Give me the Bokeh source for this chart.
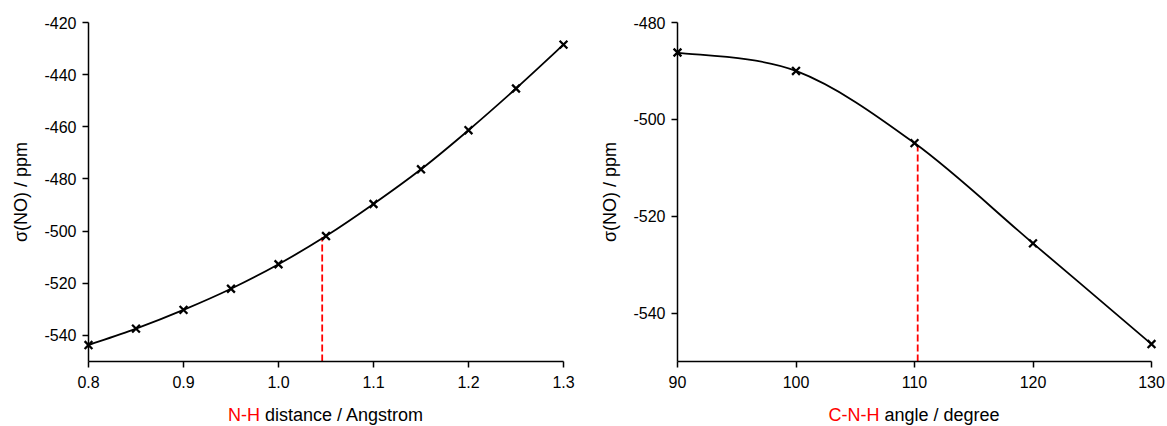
import numpy as np
from bokeh.plotting import figure
from bokeh.layouts import row, column
from bokeh.models import FixedTicker, PrintfTickFormatter, ColumnDataSource, Range1d, Div
from bokeh.embed import file_html
from bokeh.resources import INLINE

# ---- data ----
nh_distance = [0.80, 0.85, 0.90, 0.95, 1.00, 1.05, 1.10, 1.15, 1.20, 1.25, 1.30]
sigma_nh = [-543.7, -537.4, -530.2, -522.1, -512.7, -501.9, -489.6, -476.3, -461.3, -445.3, -428.5]
nh_marker_x = 1.046
nh_marker_top = -502.4

cnh_angle = [90, 100, 110, 120, 130]
sigma_cnh = [-486.2, -490.0, -504.9, -525.6, -546.4]
cnh_marker_x = 110.27
cnh_marker_top = -505.4

left_xticks = [0.8, 0.9, 1.0, 1.1, 1.2, 1.3]
left_yticks = [-540, -520, -500, -480, -460, -440, -420]
right_xticks = [90, 100, 110, 120, 130]
right_yticks = [-540, -520, -500, -480]

FONT = "Liberation Sans"


def smooth_segments(xs, ys):
    P = np.column_stack([xs, ys]).astype(float)
    n = len(P)
    out = {k: [] for k in ("x0", "y0", "x1", "y1", "cx0", "cy0", "cx1", "cy1")}
    for i in range(n - 1):
        pm = P[i - 1] if i > 0 else P[i]
        pp = P[i + 2] if i + 2 < n else P[i + 1]
        c1 = P[i] + (P[i + 1] - pm) / 6.0
        c2 = P[i + 1] - (pp - P[i]) / 6.0
        out["x0"].append(P[i][0]); out["y0"].append(P[i][1])
        out["x1"].append(P[i + 1][0]); out["y1"].append(P[i + 1][1])
        out["cx0"].append(c1[0]); out["cy0"].append(c1[1])
        out["cx1"].append(c2[0]); out["cy1"].append(c2[1])
    return out


def make_panel(xs, ys, xr, yr, xticks, yticks, xfmt, mx, mtop, width, bl, br):
    p = figure(width=width, height=400, output_backend="svg", toolbar_location=None,
               x_range=Range1d(*xr), y_range=Range1d(*yr),
               min_border_left=bl, min_border_right=br, min_border_top=22, min_border_bottom=39)
    p.outline_line_color = None
    p.grid.visible = False
    p.background_fill_color = "white"
    p.border_fill_color = "white"

    for ax in (p.xaxis[0], p.yaxis[0]):
        ax.axis_line_color = "black"
        ax.axis_line_width = 1.5
        ax.major_tick_line_color = "black"
        ax.major_tick_line_width = 1.5
        ax.major_tick_out = 6
        ax.major_tick_in = 0
        ax.minor_tick_line_color = None
        ax.major_label_text_font = FONT
        ax.major_label_text_font_size = "16px"
        ax.major_label_text_color = "black"
        ax.major_label_standoff = 6

    p.xaxis[0].ticker = FixedTicker(ticks=xticks)
    p.xaxis[0].formatter = PrintfTickFormatter(format=xfmt)
    p.xaxis[0].major_label_standoff = 8
    p.yaxis[0].ticker = FixedTicker(ticks=yticks)
    p.yaxis[0].formatter = PrintfTickFormatter(format="%d")
    p.yaxis[0].axis_label = "σ(NO) / ppm"
    p.yaxis[0].axis_label_text_font = FONT
    p.yaxis[0].axis_label_text_font_size = "18px"
    p.yaxis[0].axis_label_text_font_style = "normal"
    p.yaxis[0].axis_label_text_color = "black"
    p.yaxis[0].axis_label_standoff = 10

    # red dashed marker line
    p.segment(x0=[mx], y0=[yr[0]], x1=[mx], y1=[mtop], line_color="red",
              line_width=1.8, line_dash="7 3")

    seg = smooth_segments(xs, ys)
    p.bezier(source=ColumnDataSource(seg), x0="x0", y0="y0", x1="x1", y1="y1",
             cx0="cx0", cy0="cy0", cx1="cx1", cy1="cy1", line_color="black", line_width=1.8,
             level="overlay")
    p.scatter(xs, ys, marker="x", size=11, line_color="black", line_width=2.3, level="overlay")
    return p


def title_div(width, frame_left, frame_width, red_txt, black_txt):
    html = (f'<div style="width:{frame_width}px; margin-left:{frame_left}px; padding-top:5px; '
            f'text-align:center; white-space:nowrap; font-family:\'{FONT}\'; font-size:18px; '
            f'line-height:20px; color:black;">'
            f'<span style="color:red;">{red_txt}</span> {black_txt}</div>')
    return Div(text=html, width=width, height=26, margin=(0, 0, 0, 0))


p1 = make_panel(nh_distance, sigma_nh, (0.8, 1.3), (-550, -420), left_xticks, left_yticks, "%.1f",
                nh_marker_x, nh_marker_top, 590, 88, 27)
p2 = make_panel(cnh_angle, sigma_cnh, (90, 130), (-550, -480), right_xticks, right_yticks, "%d",
                cnh_marker_x, cnh_marker_top, 577, 87, 16)

d1 = title_div(590, 88, 475, "N-H", "distance / Angstrom")
d2 = title_div(577, 87, 474, "C-N-H", "angle / degree")

layout = column(row(p1, p2), row(d1, d2))
open("out.html", "w").write(file_html(layout, INLINE))
